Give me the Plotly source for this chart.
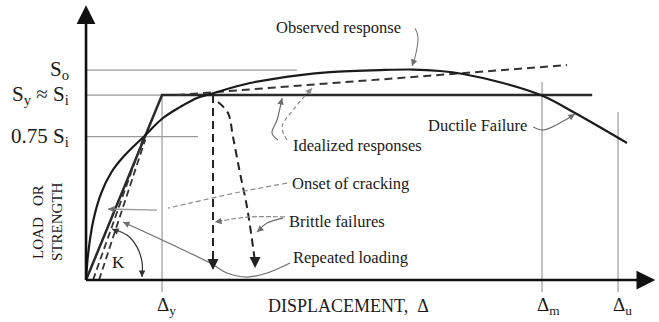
import plotly.graph_objects as go

# units: displacement in multiples of Δy, load in multiples of S_i
obs_x = [0, 0.03, 0.1, 0.2, 0.33, 0.5, 0.76, 1.013, 1.237, 1.461, 1.632, 2.158, 2.816,
         3.211, 3.868, 4.303, 4.658, 4.961, 5.487, 6.013, 6.434, 7.118]
obs_y = [0, 0.15, 0.33, 0.47, 0.58, 0.67, 0.775, 0.876, 0.935, 0.984, 1.005, 1.065, 1.108,
         1.124, 1.135, 1.138, 1.130, 1.114, 1.065, 0.995, 0.903, 0.741]

ideal_x = [0, 1, 6.66]
ideal_y = [0, 1, 1]
ideal2_x = [1.197, 6.329]
ideal2_y = [1.0, 1.162]

reload_a_x = [0.092, 0.76]
reload_a_y = [0, 0.775]
reload_b_x = [0.171, 0.78]
reload_b_y = [0, 0.76]

brittle1_x = [1.671, 1.671]
brittle1_y = [1.0, 0.054]
brittle2_x = [1.737, 1.868, 1.934, 2.026, 2.118, 2.224, 2.224]
brittle2_y = [0.962, 0.903, 0.773, 0.578, 0.395, 0.097, 0.065]

# reference levels
S_o, S_i, S_75 = 1.135, 1.0, 0.775
so_end, si_end, s75_end = 2.776, 1.0, 1.474
d_y, d_m, d_u = 1, 6, 7
d_tops = [1.0, 1.07, 0.908]
d_bottom = -0.065
x_tip, y_tip = 7.49, 1.486

# leader lines
lead_obs_x = [4.329, 4.368, 4.329, 4.289]
lead_obs_y = [1.362, 1.314, 1.205, 1.157]
lead_id1_x = [2.526, 2.447, 2.513, 2.579]
lead_id1_y = [0.757, 0.795, 0.865, 0.984]
lead_id2_x = [2.645, 2.579, 2.724, 2.974]
lead_id2_y = [0.757, 0.827, 0.919, 1.038]
lead_crk_x = [2.645, 2.026, 1.368, 1.079]
lead_crk_y = [0.524, 0.476, 0.416, 0.389]
lead_crk2_x = [0.934, 0.289]
lead_crk2_y = [0.378, 0.384]
lead_br1_x = [2.618, 2.158, 1.697]
lead_br1_y = [0.341, 0.341, 0.314]
lead_br2_x = [2.592, 2.382, 2.25]
lead_br2_y = [0.335, 0.308, 0.259]
lead_rep_x = [2.684, 2.382, 2.118, 1.855, 1.632, 0.487]
lead_rep_y = [0.092, 0.038, 0.016, 0.038, 0.092, 0.314]
k_arc_x = [0.342, 0.539, 0.671, 0.737, 0.737]
k_arc_y = [0.276, 0.243, 0.178, 0.097, 0.016]
lead_duc_x = [5.882, 6.013, 6.237, 6.434]
lead_duc_y = [0.827, 0.811, 0.849, 0.897]

W, H = 659, 322
XR = [-1.132, 7.539]
YR = [-0.227, 1.514]
SX = W / (XR[1] - XR[0])
SY = H / (YR[1] - YR[0])

FONT = "Liberation Serif"
DARK = "#1a1a1a"
GREY = "#9a9a9a"
LEAD = "#6e6e6e"

fig = go.Figure()


def line(xs, ys, color=DARK, width=2, dash="solid", shape="linear"):
    fig.add_trace(go.Scatter(x=xs, y=ys, mode="lines", hoverinfo="skip",
                             line=dict(color=color, width=width, dash=dash, shape=shape, smoothing=1)))


def head(xs, ys, color=DARK, width=1, size=1.4, length=10):
    dx = (xs[-2] - xs[-1]) * SX
    dy = -(ys[-2] - ys[-1]) * SY
    n = (dx * dx + dy * dy) ** 0.5
    fig.add_annotation(x=xs[-1], y=ys[-1], ax=dx / n * length, ay=dy / n * length,
                       text="", showarrow=True, arrowhead=2, arrowwidth=width,
                       arrowsize=size, arrowcolor=color)


def label(x, y, txt, size=16, xanchor="center", angle=0):
    fig.add_annotation(x=x, y=y, text=txt, showarrow=False, xanchor=xanchor, yanchor="middle",
                       textangle=angle, font=dict(family=FONT, size=size, color=DARK))


# grey reference lines
line([0, so_end], [S_o, S_o], GREY, 1.2)
line([0, si_end], [S_i, S_i], GREY, 1.2)
line([0, s75_end], [S_75, S_75], GREY, 1.2)
for xv, top in zip([d_y, d_m, d_u], d_tops):
    line([xv, xv], [top, d_bottom], GREY, 1.2)

# responses
line(ideal_x, ideal_y, "#2a2a2a", 2.5)
line(ideal2_x, ideal2_y, "#333333", 2, "8px,5px")
line(reload_a_x, reload_a_y, "#333333", 1.8, "7px,4px")
line(reload_b_x, reload_b_y, "#333333", 1.8, "7px,4px")
line(obs_x, obs_y, DARK, 2.2, shape="spline")
line(brittle1_x, brittle1_y[:1] + [brittle1_y[1] + 0.04], "#222222", 2, "8px,5px")
head(brittle1_x, brittle1_y, "#222222", 2, 1.1, 6)
line(brittle2_x[:-1], brittle2_y[:-1], "#222222", 2, "8px,5px", "spline")
head(brittle2_x, brittle2_y, "#222222", 2, 1.1, 6)

# leaders
line(lead_obs_x, lead_obs_y, LEAD, 1, shape="spline")
head(lead_obs_x, lead_obs_y, LEAD, 1, 1.3, 4)
line(lead_id1_x, lead_id1_y, LEAD, 1.2, shape="spline")
head(lead_id1_x, lead_id1_y, LEAD, 1, 1.3, 4)
line(lead_id2_x, lead_id2_y, "#8a8a8a", 1.2, "4px,3px", "spline")
head(lead_id2_x, lead_id2_y, "#8a8a8a", 1, 1.3, 4)
line(lead_crk_x, lead_crk_y, "#8a8a8a", 1.2, "5px,3px", "spline")
line(lead_crk2_x, lead_crk2_y, GREY, 1.4)
head(lead_crk2_x, lead_crk2_y, LEAD, 1, 1.3, 4)
line(lead_br1_x, lead_br1_y, "#8a8a8a", 1.2, "5px,2px", "spline")
head(lead_br1_x, lead_br1_y, LEAD, 1, 1.3, 4)
line(lead_br2_x, lead_br2_y, LEAD, 1.2, shape="spline")
head(lead_br2_x, lead_br2_y, LEAD, 1, 1.3, 4)
line(lead_rep_x, lead_rep_y, LEAD, 1.2, shape="spline")
head(lead_rep_x, lead_rep_y, LEAD, 1, 1.3, 4)
line(k_arc_x, k_arc_y, "#333333", 1.2, shape="spline")
head(k_arc_x, k_arc_y, "#333333", 1, 1.3, 4)
head(k_arc_x[::-1], k_arc_y[::-1], "#333333", 1, 1.3, 4)
line(lead_duc_x, lead_duc_y, LEAD, 1.2, shape="spline")
head(lead_duc_x, lead_duc_y, LEAD, 1, 1.3, 4)

# axes
line([0, 0], [0, y_tip - 0.05], "#111111", 2.6)
line([0, x_tip - 0.1], [0, 0], "#111111", 2.6)
head([0, 0], [0, y_tip], "#111111", 2.5, 1.5, 8)
head([0, x_tip], [0, 0], "#111111", 2.5, 1.5, 8)

# texts
label(3.316, 1.368, "Observed response", 16.5)
label(3.566, 0.730, "Idealized responses", 16.5)
label(5.145, 0.838, "Ductile Failure", 16.5)
label(3.474, 0.524, "Onset of cracking", 16.5)
label(3.303, 0.319, "Brittle failures", 16.5)
label(3.474, 0.124, "Repeated loading", 16.5)
label(0.421, 0.097, "K", 17)
label(-0.2, S_o, "S<sub>o</sub>", 21, "right")
label(-0.2, S_i, "S<sub>y</sub> ≈ S<sub>i</sub>", 21, "right")
label(-0.2, S_75, "0.75 S<sub>i</sub>", 21, "right")
for xv, txt in zip([d_y, d_m, d_u], ["Δ<sub>y</sub>", "Δ<sub>m</sub>", "Δ<sub>u</sub>"]):
    label(xv - 0.09, -0.14, txt, 19, "left")
label(3.46, -0.14, "DISPLACEMENT,  Δ", 18)
label(-0.632, 0.314, "LOAD   OR", 15, angle=-90)
label(-0.382, 0.314, "STRENGTH", 15, angle=-90)

fig.update_layout(
    width=W, height=H, showlegend=False,
    margin=dict(l=0, r=0, t=0, b=0),
    paper_bgcolor="white", plot_bgcolor="white",
    xaxis=dict(range=XR, visible=False, fixedrange=True),
    yaxis=dict(range=YR, visible=False, fixedrange=True),
)

# drop the default page margin so the figure fills the window
fig.write_html("out.html", config={"displayModeBar": False},
               post_script="document.body.style.margin='0';")
